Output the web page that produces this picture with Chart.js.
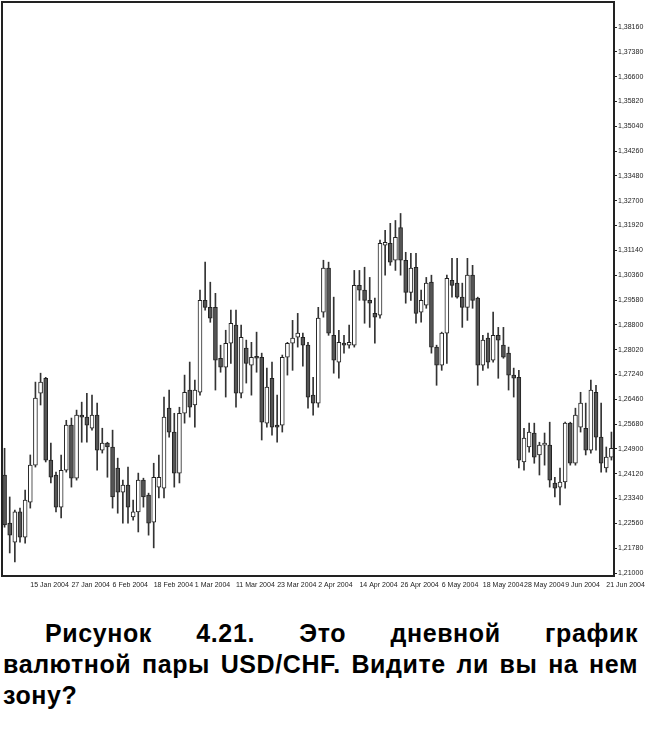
<!DOCTYPE html>
<html>
<head>
<meta charset="utf-8">
<script src="https://cdn.jsdelivr.net/npm/chart.js@4"></script>
<style>
  body { margin: 0; background: #fff; width: 650px; height: 731px; overflow: hidden; position: relative; }
  #wrap { position: absolute; left: 0; top: 0; width: 650px; height: 600px; }
  .cap { position: absolute; left: 3px; top: 618px; width: 635px; color: #000;
         font: bold 25px 'Liberation Sans', Arial, sans-serif; line-height: 31px; letter-spacing: 0.6px; }
  .cap div { white-space: nowrap; }
  .cap .just { text-align: justify; text-align-last: justify; white-space: normal; }
</style>
</head>
<body>
<div id="wrap"><canvas id="chart" width="650" height="600"></canvas></div>
<div class="cap">
  <div class="just" style="padding-left:42px">Рисунок 4.21. Это дневной график</div>
  <div class="just">валютной пары USD/CHF. Видите ли вы на нем</div>
  <div>зону?</div>
</div>
<script>
const dates = [
  '8 Jan 2004', '9 Jan 2004', '12 Jan 2004', '13 Jan 2004', '14 Jan 2004', '15 Jan 2004', '16 Jan 2004', '19 Jan 2004', '20 Jan 2004', '21 Jan 2004', '22 Jan 2004', '23 Jan 2004', '26 Jan 2004', '27 Jan 2004', '28 Jan 2004', '29 Jan 2004', '30 Jan 2004',
  '2 Feb 2004', '3 Feb 2004', '4 Feb 2004', '5 Feb 2004', '6 Feb 2004', '9 Feb 2004', '10 Feb 2004', '11 Feb 2004', '12 Feb 2004', '13 Feb 2004', '16 Feb 2004', '17 Feb 2004', '18 Feb 2004', '19 Feb 2004', '20 Feb 2004', '23 Feb 2004', '24 Feb 2004', '25 Feb 2004', '26 Feb 2004', '27 Feb 2004',
  '1 Mar 2004', '2 Mar 2004', '3 Mar 2004', '4 Mar 2004', '5 Mar 2004', '8 Mar 2004', '9 Mar 2004', '10 Mar 2004', '11 Mar 2004', '12 Mar 2004', '15 Mar 2004', '16 Mar 2004', '17 Mar 2004', '18 Mar 2004', '19 Mar 2004', '22 Mar 2004', '23 Mar 2004', '24 Mar 2004', '25 Mar 2004', '26 Mar 2004', '29 Mar 2004', '30 Mar 2004', '31 Mar 2004',
  '1 Apr 2004', '2 Apr 2004', '5 Apr 2004', '6 Apr 2004', '7 Apr 2004', '8 Apr 2004', '9 Apr 2004', '12 Apr 2004', '13 Apr 2004', '14 Apr 2004', '15 Apr 2004', '16 Apr 2004', '19 Apr 2004', '20 Apr 2004', '21 Apr 2004', '22 Apr 2004', '23 Apr 2004', '26 Apr 2004', '27 Apr 2004', '28 Apr 2004', '29 Apr 2004', '30 Apr 2004',
  '3 May 2004', '4 May 2004', '5 May 2004', '6 May 2004', '7 May 2004', '10 May 2004', '11 May 2004', '12 May 2004', '13 May 2004', '14 May 2004', '17 May 2004', '18 May 2004', '19 May 2004', '20 May 2004', '21 May 2004', '24 May 2004', '25 May 2004', '26 May 2004', '27 May 2004', '28 May 2004', '31 May 2004',
  '1 Jun 2004', '2 Jun 2004', '3 Jun 2004', '4 Jun 2004', '7 Jun 2004', '8 Jun 2004', '9 Jun 2004', '10 Jun 2004', '11 Jun 2004', '14 Jun 2004', '15 Jun 2004', '16 Jun 2004', '17 Jun 2004', '18 Jun 2004', '21 Jun 2004', '22 Jun 2004'
];

const opens = [
  1.2408, 1.2257, 1.2197, 1.2292, 1.2213, 1.2323, 1.2439, 1.2665, 1.2712, 1.2455,
  1.2408, 1.2307, 1.2423, 1.2565, 1.2398, 1.2596, 1.2590, 1.2555, 1.2596, 1.2486,
  1.2508, 1.2496, 1.2430, 1.2354, 1.2376, 1.2276, 1.2292, 1.2392, 1.2345, 1.2260,
  1.2370, 1.2367, 1.2618, 1.2543, 1.2414, 1.2602, 1.2675, 1.2628, 1.2668, 1.2957,
  1.2935, 1.2935, 1.2775, 1.2747, 1.2822, 1.2879, 1.2665, 1.2807, 1.2753, 1.2778,
  1.2778, 1.2571, 1.2712, 1.2565, 1.2565, 1.2778, 1.2822, 1.2841, 1.2841, 1.2816,
  1.2659, 1.2634, 1.2920, 1.3058, 1.2847, 1.2763, 1.2822, 1.2816, 1.2816, 1.3004,
  1.2989, 1.2957, 1.2916, 1.2910, 1.3130, 1.3136, 1.3083, 1.3186, 1.3083, 1.2982,
  1.3061, 1.2920, 1.2942, 1.3014, 1.2810, 1.2753, 1.2854, 1.3020, 1.3011, 1.2967,
  1.2935, 1.3036, 1.2964, 1.2753, 1.2838, 1.2769, 1.2847, 1.2816, 1.2791, 1.2722,
  1.2715, 1.2449, 1.2496, 1.2540, 1.2471, 1.2502, 1.2502, 1.2383, 1.2370, 1.2386,
  1.2571, 1.2445, 1.2558, 1.2555, 1.2486, 1.2668, 1.2527, 1.2430, 1.2464
];
const highs = [
  1.2492, 1.2339, 1.2298, 1.2304, 1.2361, 1.2471, 1.2700, 1.2728, 1.2715, 1.2508,
  1.2417, 1.2471, 1.2580, 1.2587, 1.2612, 1.2637, 1.2665, 1.2659, 1.2634, 1.2555,
  1.2511, 1.2549, 1.2461, 1.2392, 1.2433, 1.2329, 1.2414, 1.2398, 1.2351, 1.2445,
  1.2471, 1.2653, 1.2675, 1.2602, 1.2621, 1.2722, 1.2763, 1.2706, 1.2989, 1.3077,
  1.3014, 1.2979, 1.2816, 1.2863, 1.2926, 1.2926, 1.2879, 1.2832, 1.2825, 1.2857,
  1.2791, 1.2744, 1.2763, 1.2659, 1.2785, 1.2825, 1.2894, 1.2916, 1.2854, 1.2825,
  1.2715, 1.2935, 1.3083, 1.3077, 1.2967, 1.2863, 1.2847, 1.2879, 1.3051, 1.3051,
  1.3061, 1.3029, 1.2964, 1.3146, 1.3177, 1.3199, 1.3208, 1.3230, 1.3108, 1.3105,
  1.3105, 1.2989, 1.3029, 1.3036, 1.2816, 1.2857, 1.3036, 1.3089, 1.3089, 1.3011,
  1.3089, 1.3067, 1.2967, 1.2847, 1.2854, 1.2920, 1.2872, 1.2872, 1.2810, 1.2744,
  1.2737, 1.2555, 1.2571, 1.2571, 1.2511, 1.2540, 1.2574, 1.2401, 1.2430, 1.2574,
  1.2574, 1.2618, 1.2668, 1.2634, 1.2706, 1.2690, 1.2634, 1.2496, 1.2543
];
const lows = [
  1.2244, 1.2163, 1.2135, 1.2197, 1.2194, 1.2304, 1.2433, 1.2628, 1.2449, 1.2383,
  1.2292, 1.2273, 1.2417, 1.2370, 1.2392, 1.2511, 1.2511, 1.2549, 1.2423, 1.2477,
  1.2401, 1.2304, 1.2288, 1.2257, 1.2257, 1.2266, 1.2229, 1.2307, 1.2219, 1.2179,
  1.2336, 1.2336, 1.2527, 1.2370, 1.2383, 1.2571, 1.2590, 1.2558, 1.2659, 1.2926,
  1.2888, 1.2675, 1.2731, 1.2653, 1.2759, 1.2621, 1.2650, 1.2697, 1.2659, 1.2731,
  1.2518, 1.2558, 1.2533, 1.2511, 1.2543, 1.2722, 1.2737, 1.2810, 1.2750, 1.2618,
  1.2596, 1.2621, 1.2904, 1.2847, 1.2728, 1.2712, 1.2791, 1.2807, 1.2810, 1.2957,
  1.2885, 1.2872, 1.2822, 1.2901, 1.3036, 1.3067, 1.3051, 1.3036, 1.2948, 1.2957,
  1.2885, 1.2888, 1.2932, 1.2791, 1.2690, 1.2737, 1.2759, 1.2967, 1.2964, 1.2872,
  1.2894, 1.2932, 1.2690, 1.2737, 1.2744, 1.2763, 1.2712, 1.2775, 1.2675, 1.2653,
  1.2430, 1.2423, 1.2480, 1.2445, 1.2408, 1.2439, 1.2370, 1.2339, 1.2314, 1.2367,
  1.2439, 1.2439, 1.2543, 1.2471, 1.2477, 1.2486, 1.2417, 1.2417, 1.2455
];
const closes = [
  1.2251, 1.2219, 1.2292, 1.2213, 1.2329, 1.2439, 1.2650, 1.2700, 1.2455, 1.2401,
  1.2307, 1.2423, 1.2565, 1.2398, 1.2596, 1.2590, 1.2565, 1.2596, 1.2486, 1.2508,
  1.2496, 1.2339, 1.2354, 1.2376, 1.2307, 1.2292, 1.2392, 1.2339, 1.2257, 1.2401,
  1.2401, 1.2590, 1.2543, 1.2414, 1.2602, 1.2668, 1.2621, 1.2675, 1.2957, 1.2935,
  1.2901, 1.2769, 1.2747, 1.2822, 1.2885, 1.2665, 1.2841, 1.2759, 1.2778, 1.2775,
  1.2574, 1.2684, 1.2558, 1.2558, 1.2778, 1.2822, 1.2838, 1.2854, 1.2816, 1.2653,
  1.2634, 1.2901, 1.3058, 1.2854, 1.2769, 1.2825, 1.2816, 1.2825, 1.3004, 1.2989,
  1.2957, 1.2948, 1.2904, 1.3136, 1.3139, 1.3077, 1.3155, 1.3083, 1.2982, 1.3058,
  1.2916, 1.2957, 1.3011, 1.2810, 1.2753, 1.2854, 1.3026, 1.3004, 1.2967, 1.2935,
  1.3036, 1.2957, 1.2753, 1.2832, 1.2763, 1.2847, 1.2832, 1.2778, 1.2722, 1.2712,
  1.2455, 1.2524, 1.2543, 1.2464, 1.2502, 1.2508, 1.2392, 1.2367, 1.2386, 1.2571,
  1.2445, 1.2596, 1.2634, 1.2486, 1.2675, 1.2527, 1.2445, 1.2464, 1.2492
];

const xTickLabels = ['15 Jan 2004', '27 Jan 2004', '6 Feb 2004', '18 Feb 2004', '1 Mar 2004', '11 Mar 2004', '23 Mar 2004', '2 Apr 2004',
  '14 Apr 2004', '26 Apr 2004', '6 May 2004', '18 May 2004', '28 May 2004', '9 Jun 2004', '21 Jun 2004'];
const yTicks = [1.21000, 1.21780, 1.22560, 1.23340, 1.24120, 1.24900, 1.25680, 1.26460, 1.27240, 1.28020, 1.28800, 1.29580,
  1.30360, 1.31140, 1.31920, 1.32700, 1.33480, 1.34260, 1.35040, 1.35820, 1.36600, 1.37380, 1.38160];

const font = "'Liberation Sans', Arial, sans-serif";

// frame around the plot, like the terminal window
const frame = {
  id: 'frame',
  afterDatasetsDraw(chart) {
    const { ctx, chartArea: a } = chart;
    ctx.save();
    ctx.strokeStyle = '#222';
    ctx.lineWidth = 2;
    ctx.strokeRect(a.left, a.top, a.right - a.left, a.bottom - a.top);
    ctx.restore();
  }
};

const chart = new Chart(document.getElementById('chart'), {
  type: 'bar',
  data: {
    labels: dates,
    datasets: [
      {
        label: 'wick',
        data: lows.map((l, i) => [l, highs[i]]),
        backgroundColor: '#333',
        barThickness: 1,
        grouped: false,
        order: 2
      },
      {
        label: 'body',
        data: opens.map((o, i) => [o, closes[i]]),
        backgroundColor: (c) => closes[c.dataIndex] < opens[c.dataIndex] ? '#555' : '#fff',
        borderColor: '#222',
        borderWidth: 1,
        borderSkipped: false,
        barThickness: 4,
        minBarLength: 2,
        grouped: false,
        order: 1
      }
    ]
  },
  options: {
    responsive: false,
    animation: false,
    events: [],
    layout: { padding: { left: 2, top: 2, right: 0, bottom: 0 } },
    plugins: { legend: { display: false }, tooltip: { enabled: false } },
    scales: {
      x: {
        offset: true,
        grid: { display: false, drawTicks: false },
        border: { display: false },
        afterFit: (s) => { s.height = 24; s.paddingLeft = 0; s.paddingRight = 0; },
        ticks: {
          autoSkip: false,
          maxRotation: 0,
          minRotation: 0,
          align: 'start',
          padding: 5,
          color: '#222',
          font: { family: font, size: 7 },
          callback: (v, i) => xTickLabels.includes(dates[i]) ? dates[i] : ''
        }
      },
      y: {
        position: 'right',
        min: 1.20906,
        max: 1.38946,
        grid: { drawOnChartArea: false, drawTicks: true, tickLength: 3, color: '#222' },
        border: { display: false },
        afterFit: (s) => { s.width = 36; s.paddingTop = 0; s.paddingBottom = 0; },
        afterBuildTicks: (s) => { s.ticks = yTicks.map(v => ({ value: v })); },
        ticks: {
          padding: 1,
          color: '#222',
          font: { family: font, size: 7 },
          callback: (v) => v.toFixed(5).replace('.', ',')
        }
      }
    }
  },
  plugins: [frame]
});
</script>
</body>
</html>
